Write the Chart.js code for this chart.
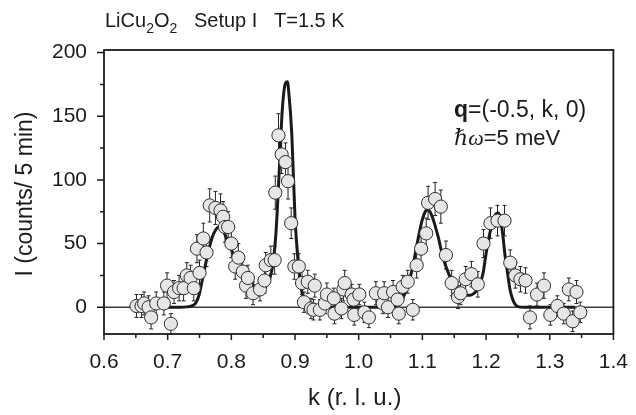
<!DOCTYPE html>
<html><head><meta charset="utf-8">
<script src="https://cdn.jsdelivr.net/npm/chart.js@4/dist/chart.umd.min.js"></script>
<style>html,body{margin:0;padding:0;background:#fff}#wrap{width:636px;height:415px;position:relative}</style>
</head><body><div id="wrap"><canvas id="c" width="636" height="415"></canvas></div>
<script>
// measured points: k (r.l.u.), intensity (counts / 5 min), error bars
const kValues = [0.651,0.659,0.663,0.670,0.674,0.682,0.694,0.699,0.705,0.710,
0.718,0.725,0.730,0.736,0.741,0.746,0.750,0.756,0.761,0.766,
0.775,0.783,0.787,0.790,0.795,0.800,0.806,0.811,0.818,0.823,
0.826,0.834,0.845,0.852,0.854,0.862,0.868,0.869,0.874,0.879,
0.885,0.889,0.894,0.899,0.906,0.911,0.914,0.920,0.925,0.929,
0.931,0.939,0.947,0.950,0.961,0.962,0.973,0.976,0.978,0.989,
0.992,0.993,1.001,1.009,1.016,1.027,1.038,1.040,1.046,1.054,
1.061,1.063,1.069,1.077,1.085,1.091,1.098,1.106,1.109,1.120,
1.129,1.137,1.146,1.156,1.160,1.168,1.177,1.187,1.196,1.207,
1.218,1.229,1.238,1.246,1.254,1.262,1.269,1.280,1.291,1.301,
1.312,1.322,1.330,1.336,1.342,1.348];
const intensity = [1,1,3,0,-8,3,3,17,-13,12,
15,15,25,23,15,46,27,54,43,80,
78,76,71,63,63,50,32,39,28,17,
23,11,14,21,33,37,37,90,135,120,
114,99,66,32,32,19,4,20,-1,-2,
17,-2,3,10,7,-5,-1,14,19,10,
6,-6,10,-4,-8,11,3,11,0,12,
6,-5,16,20,-2,33,46,58,82,85,
79,41,19,8,11,22,26,18,50,66,
68,68,35,25,22,21,-8,10,17,-6,
1,-5,14,-11,12,-4];
const errors = [9,9,9,9,9,9,9,10,8,9,
10,10,10,10,10,11,10,12,11,13,
13,13,12,12,12,11,10,11,10,10,
10,9,9,10,10,11,11,13,17,15,
15,14,12,10,10,9,8,9,8,8,
9,8,8,9,8,8,8,9,10,8,
8,8,8,8,8,9,8,9,8,9,
8,8,9,9,8,10,11,12,13,13,
13,11,10,9,9,10,10,10,11,12,
12,12,10,10,10,10,9,9,10,8,
8,8,9,8,9,8];
// fitted curve
const fitK = [0.70,0.72,0.73,0.74,0.745,0.75,0.755,0.76,0.765,0.77,
0.775,0.78,0.785,0.79,0.795,0.80,0.805,0.81,0.815,0.82,
0.825,0.83,0.835,0.84,0.845,0.85,0.855,0.86,0.865,0.87,
0.875,0.88,0.885,0.888,0.89,0.895,0.90,0.905,0.91,0.915,
0.92,0.93,1.00,1.05,1.06,1.065,1.07,1.075,1.08,1.085,
1.09,1.095,1.10,1.105,1.108,1.112,1.117,1.12,1.125,1.13,
1.135,1.14,1.145,1.15,1.155,1.16,1.165,1.17,1.175,1.18,
1.185,1.19,1.195,1.20,1.205,1.21,1.215,1.219,1.222,1.226,
1.23,1.234,1.238,1.242,1.246,1.25,1.26,1.34];
const fitI = [0,0,0.3,1.5,4,11,23,35,46,55,
60.5,63,62,57,51,45,40,36,32,28.5,
25,21,17,13.5,12,13,17,22,33,58,
105,155,176,177,170,135,70,35,14,5,
1,0,0,0,1.5,4,8,14,22,32,
45,58,69,75.5,76.5,75,69,64,55,44,
35,28,22,18,14,11.5,10,9.5,9.5,10.5,
13,18,26,42,56,66,73,74,71,58,
40,26,13,6,2,0.5,0,0];
// axes
const xTickValues = [0.6,0.7,0.8,0.9,1.0,1.1,1.2,1.3,1.4];
const xMinorTicks = [0.65,0.75,0.85,0.95,1.05,1.15,1.25,1.35];
const yTickValues = [0,50,100,150,200];
const yMinorTicks = [25,75,125,175];
const xRange = [0.6, 1.4];
const yRange = [-21, 202];
const xTitle = 'k (r. l. u.)';
const yTitle = 'I (counts/ 5 min)';

const SANS = '"Liberation Sans", Arial, Helvetica, sans-serif';
const INK = '#1b1b1b';

const decor = {
  id: 'decor',
  beforeDatasetsDraw(chart) {
    const {ctx, chartArea: a, scales: {y}} = chart;
    ctx.save();
    ctx.strokeStyle = '#3c3c3c'; ctx.lineWidth = 1.3;
    const y0 = y.getPixelForValue(0);
    ctx.beginPath(); ctx.moveTo(a.left, y0); ctx.lineTo(a.right, y0); ctx.stroke();
    ctx.restore();
  },
  beforeDatasetDraw(chart, args) {
    if (args.index !== 0) return;
    const {ctx, scales: {x, y}} = chart;
    ctx.save();
    ctx.strokeStyle = '#222'; ctx.lineWidth = 1;
    kValues.forEach((k, i) => {
      const px = x.getPixelForValue(k);
      const top = y.getPixelForValue(intensity[i] + errors[i]);
      const bot = y.getPixelForValue(intensity[i] - errors[i]);
      ctx.beginPath();
      ctx.moveTo(px, top); ctx.lineTo(px, bot);
      ctx.moveTo(px - 2, top); ctx.lineTo(px + 2, top);
      ctx.moveTo(px - 2, bot); ctx.lineTo(px + 2, bot);
      ctx.stroke();
    });
    ctx.restore();
  },
  afterDraw(chart) {
    const {ctx, chartArea: a, scales: {x, y}} = chart;
    ctx.save();
    // frame
    ctx.strokeStyle = INK; ctx.lineWidth = 1.8;
    ctx.strokeRect(a.left, a.top, a.right - a.left, a.bottom - a.top);
    // ticks
    ctx.lineWidth = 1.5;
    ctx.beginPath();
    xTickValues.forEach(v => { const p = x.getPixelForValue(v); ctx.moveTo(p, a.bottom); ctx.lineTo(p, a.bottom + 6); });
    xMinorTicks.forEach(v => { const p = x.getPixelForValue(v); ctx.moveTo(p, a.bottom); ctx.lineTo(p, a.bottom + 4); });
    yTickValues.forEach(v => { const p = y.getPixelForValue(v); ctx.moveTo(a.left, p); ctx.lineTo(a.left - 7, p); });
    yMinorTicks.forEach(v => { const p = y.getPixelForValue(v); ctx.moveTo(a.left, p); ctx.lineTo(a.left - 4, p); });
    ctx.stroke();
    // axis titles
    ctx.fillStyle = INK;
    ctx.textAlign = 'center'; ctx.textBaseline = 'alphabetic';
    ctx.font = '24px ' + SANS;
    ctx.fillText(xTitle, (a.left + a.right) / 2 - 4, 405);
    ctx.font = '23px ' + SANS;
    ctx.save();
    ctx.translate(32, 194); ctx.rotate(-Math.PI / 2);
    ctx.fillText(yTitle, 0, 0);
    ctx.restore();
    // title with subscripts
    ctx.textAlign = 'left';
    let cx = 105; const base = 27;
    const seg = (t, f, dy) => { ctx.font = f; ctx.fillText(t, cx, base + (dy || 0)); cx += ctx.measureText(t).width; };
    const big = '20px ' + SANS, small = '14px ' + SANS;
    seg('LiCu', big); seg('2', small, 6); seg('O', big); seg('2', small, 6);
    seg('   Setup I   T=1.5 K', big);
    // annotation
    cx = 454;
    const b1 = 117, b2 = 145;
    ctx.font = 'bold 23px ' + SANS; ctx.fillText('q', cx, b1); cx += ctx.measureText('q').width;
    ctx.font = '23px ' + SANS; ctx.fillText('=(-0.5, k, 0)', cx, b1);
    cx = 454;
    ctx.font = 'italic 22px "Liberation Serif", "DejaVu Serif", serif'; ctx.fillText('\u210F\u03C9', cx, b2); cx += ctx.measureText('\u210F\u03C9').width;
    ctx.font = '22px ' + SANS; ctx.fillText('=5 meV', cx, b2);
    ctx.restore();
  }
};

new Chart(document.getElementById('c'), {
  type: 'scatter',
  data: {
    datasets: [
      {
        label: 'data',
        data: kValues.map((k, i) => ({x: k, y: intensity[i]})),
        pointRadius: 6.6,
        pointBackgroundColor: '#e6e6e6',
        pointBorderColor: '#2e2e2e',
        pointBorderWidth: 1,
        showLine: false,
        order: 0
      },
      {
        label: 'fit',
        type: 'line',
        data: fitK.map((k, i) => ({x: k, y: fitI[i]})),
        borderColor: '#1a1a1a',
        borderWidth: 3,
        pointRadius: 0,
        cubicInterpolationMode: 'monotone',
        fill: false,
        order: 1
      }
    ]
  },
  options: {
    responsive: false,
    devicePixelRatio: 1,
    animation: false,
    layout: {padding: {left: 0, top: 50, right: 16, bottom: 0}},
    plugins: {legend: {display: false}, tooltip: {enabled: false}, title: {display: false}},
    scales: {
      x: {
        type: 'linear', min: xRange[0], max: xRange[1],
        afterBuildTicks: s => { s.ticks = xTickValues.map(v => ({value: v})); },
        afterFit: s => { s.height = 81; },
        grid: {display: false}, border: {display: false},
        ticks: {callback: v => Number(v).toFixed(1), font: {family: SANS, size: 21}, color: INK, padding: 8, maxRotation: 0, autoSkip: false}
      },
      y: {
        type: 'linear', min: yRange[0], max: yRange[1],
        afterBuildTicks: s => { s.ticks = yTickValues.map(v => ({value: v})); },
        afterFit: s => { s.width = 104; },
        grid: {display: false}, border: {display: false},
        ticks: {font: {family: SANS, size: 21}, color: INK, padding: 9}
      }
    }
  },
  plugins: [decor]
});
</script></body></html>
